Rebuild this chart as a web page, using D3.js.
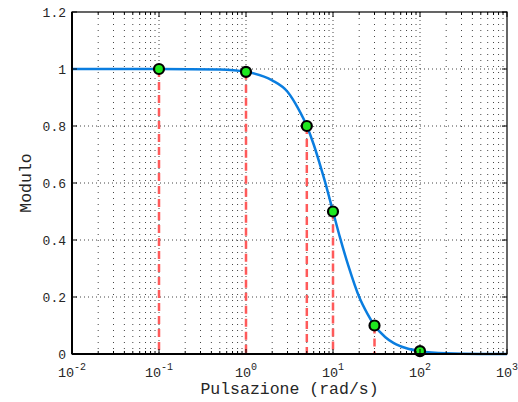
<!DOCTYPE html>
<html>
<head>
<meta charset="utf-8">
<script src="https://cdn.jsdelivr.net/npm/d3@7"></script>
<style>
  body { margin: 0; background: #fff; }
  svg { display: block; }
  text { font-family: "Liberation Mono", "DejaVu Sans Mono", monospace; fill: #262626; }
</style>
</head>
<body>
<svg id="chart" width="518" height="402"></svg>
<script>
// curve points (pulsazione, modulo)
const curveW = [0.01, 0.1, 0.5, 1, 2, 3, 4, 5, 6, 7, 8, 10, 12, 15, 20, 25, 30, 40, 50, 70, 100, 200, 500, 1000];
const curveM = [1, 1, 0.998, 0.99, 0.96, 0.92, 0.86, 0.8, 0.735, 0.67, 0.61, 0.5, 0.41, 0.31, 0.2, 0.14, 0.1, 0.059, 0.038, 0.02, 0.01, 0.0025, 0.0004, 0.0001];

// highlighted samples
const markW = [0.1, 1, 5, 10, 30, 100];
const markM = [1, 0.99, 0.8, 0.5, 0.1, 0.01];

const xDecades = [-2, -1, 0, 1, 2, 3];
const yTicks = [0, 0.2, 0.4, 0.6, 0.8, 1, 1.2];

const margin = { top: 12, right: 11, bottom: 48, left: 72 };
const width = 518 - margin.left - margin.right;
const height = 402 - margin.top - margin.bottom;

const svg = d3.select('#chart');
const g = svg.append('g').attr('transform', `translate(${margin.left},${margin.top})`);

const x = d3.scaleLog().domain([1e-2, 1e3]).range([0, width]);
const y = d3.scaleLinear().domain([0, 1.2]).range([height, 0]);

// minor log positions
const minor = [];
xDecades.slice(0, -1).forEach(e => {
  for (let k = 2; k <= 9; k++) minor.push(k * Math.pow(10, e));
});

// grid
const grid = g.append('g').attr('class', 'grid');
grid.selectAll('.vminor')
  .data(minor)
  .join('line')
  .attr('x1', d => x(d)).attr('x2', d => x(d))
  .attr('y1', 0).attr('y2', height)
  .attr('stroke', '#444').attr('stroke-width', 1)
  .attr('stroke-dasharray', '1,5');
grid.selectAll('.vmajor')
  .data(xDecades.slice(1, -1))
  .join('line')
  .attr('x1', d => x(Math.pow(10, d))).attr('x2', d => x(Math.pow(10, d)))
  .attr('y1', 0).attr('y2', height)
  .attr('stroke', '#444').attr('stroke-width', 1)
  .attr('stroke-dasharray', '1,3');
grid.selectAll('.hmajor')
  .data(yTicks.slice(1, -1))
  .join('line')
  .attr('x1', 0).attr('x2', width)
  .attr('y1', d => y(d)).attr('y2', d => y(d))
  .attr('stroke', '#444').attr('stroke-width', 1)
  .attr('stroke-dasharray', '1,3');

// dashed drop lines
g.selectAll('.drop')
  .data(markW.map((w, i) => ({ w, m: markM[i] })))
  .join('line')
  .attr('class', 'drop')
  .attr('x1', d => x(d.w)).attr('x2', d => x(d.w))
  .attr('y1', d => y(d.m)).attr('y2', height)
  .attr('stroke', '#ff5a5a').attr('stroke-width', 2.5)
  .attr('stroke-dasharray', '8,5');

// curve
const line = d3.line()
  .x(d => x(d[0]))
  .y(d => y(d[1]))
  .curve(d3.curveMonotoneX);
g.append('path')
  .datum(curveW.map((w, i) => [w, curveM[i]]))
  .attr('d', line)
  .attr('fill', 'none')
  .attr('stroke', '#0a7ddf')
  .attr('stroke-width', 2.5);

// markers
g.selectAll('.mark')
  .data(markW.map((w, i) => ({ w, m: markM[i] })))
  .join('circle')
  .attr('class', 'mark')
  .attr('cx', d => x(d.w)).attr('cy', d => y(d.m))
  .attr('r', 5)
  .attr('fill', '#1fe81f')
  .attr('stroke', '#000').attr('stroke-width', 2.2);

// axes (box with ticks on all sides)
const tickLen = 5;
const axes = g.append('g').attr('class', 'axes');
axes.append('rect')
  .attr('width', width).attr('height', height)
  .attr('fill', 'none').attr('stroke', '#000').attr('stroke-width', 1.2);
g.append('line').attr('x1', 0).attr('x2', width).attr('y1', height).attr('y2', height)
  .attr('stroke', '#000').attr('stroke-width', 2);
g.append('line').attr('x1', 0).attr('x2', 0).attr('y1', 0).attr('y2', height)
  .attr('stroke', '#000').attr('stroke-width', 2);

[0, height].forEach(y0 => {
  const dir = y0 === 0 ? 1 : -1;
  axes.selectAll(null)
    .data(xDecades.map(e => Math.pow(10, e)))
    .join('line')
    .attr('x1', d => x(d)).attr('x2', d => x(d))
    .attr('y1', y0).attr('y2', y0 + dir * tickLen)
    .attr('stroke', '#000');
  axes.selectAll(null)
    .data(minor)
    .join('line')
    .attr('x1', d => x(d)).attr('x2', d => x(d))
    .attr('y1', y0).attr('y2', y0 + dir * 3)
    .attr('stroke', '#000');
});
[0, width].forEach(x0 => {
  const dir = x0 === 0 ? 1 : -1;
  axes.selectAll(null)
    .data(yTicks)
    .join('line')
    .attr('x1', x0).attr('x2', x0 + dir * tickLen)
    .attr('y1', d => y(d)).attr('y2', d => y(d))
    .attr('stroke', '#000');
});

// y tick labels
g.selectAll('.ylab')
  .data(yTicks)
  .join('text')
  .attr('x', -6)
  .attr('y', d => y(d) + 5)
  .attr('text-anchor', 'end')
  .style('font-size', '13px')
  .text(d => d3.format('~g')(d));

// x tick labels 10^e
const xl = g.selectAll('.xlab')
  .data(xDecades)
  .join('text')
  .attr('x', d => x(Math.pow(10, d)))
  .attr('y', height + 23)
  .attr('text-anchor', 'middle')
  .style('font-size', '13.5px');
xl.append('tspan').text('10');
xl.append('tspan')
  .attr('dy', -7)
  .style('font-size', '10px')
  .text(d => d);

// axis titles
svg.append('text')
  .attr('x', margin.left + width / 2)
  .attr('y', 394)
  .attr('text-anchor', 'middle')
  .style('font-size', '16.5px')
  .text('Pulsazione (rad/s)');
svg.append('text')
  .attr('transform', `translate(31,${margin.top + height / 2}) rotate(-90)`)
  .attr('text-anchor', 'middle')
  .style('font-size', '16.5px')
  .text('Modulo');
</script>
</body>
</html>
